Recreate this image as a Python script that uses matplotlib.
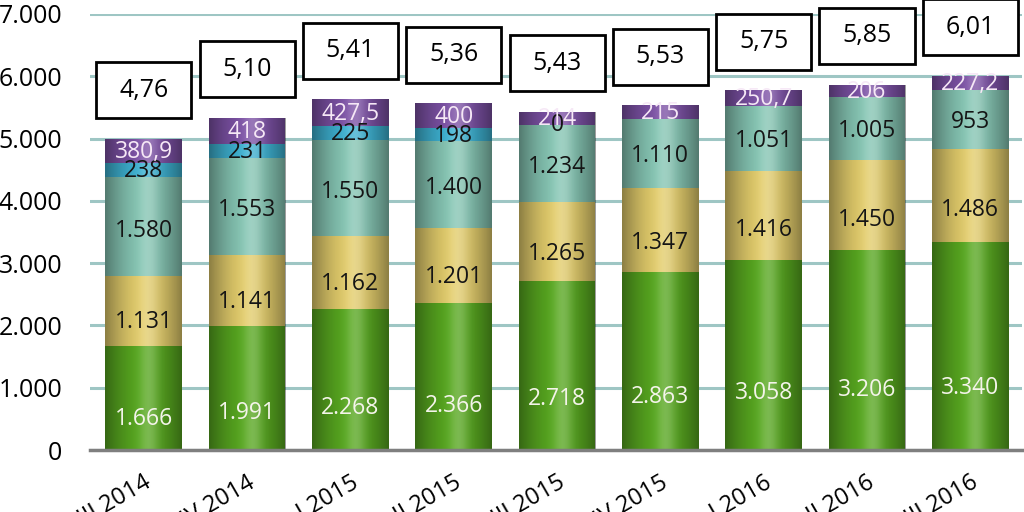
import matplotlib
matplotlib.use("Agg")
import matplotlib.pyplot as plt
import numpy as np
from matplotlib.patches import Rectangle

# ---- data ----
periods = ["III 2014", "IV 2014", "I 2015", "II 2015", "III 2015",
           "IV 2015", "I 2016", "II 2016", "III 2016"]
green = [1666, 1991, 2268, 2366, 2718, 2863, 3058, 3206, 3340]
yellow = [1131, 1141, 1162, 1201, 1265, 1347, 1416, 1450, 1486]
teal = [1580, 1553, 1550, 1400, 1234, 1110, 1051, 1005, 953]
blue = [238, 231, 225, 198, 0, None, None, None, None]
purple = [380.9, 418, 427.5, 400, 214, 215, 250.7, 206, 227.2]
box_labels = ["4,76", "5,10", "5,41", "5,36", "5,43", "5,53", "5,75", "5,85", "6,01"]
yticks = [0, 1000, 2000, 3000, 4000, 5000, 6000, 7000]
ytick_labels = ["0", "1.000", "2.000", "3.000", "4.000", "5.000", "6.000", "7.000"]

FONT = "Open Sans"
plt.rcParams["font.family"] = [FONT, "DejaVu Sans"]

def fmt(v):
    if v is None:
        return ""
    if float(v).is_integer():
        return f"{int(v):,}".replace(",", ".")
    return f"{v}".replace(".", ",")

fig = plt.figure(figsize=(10.24, 5.12), dpi=100)
ax = fig.add_axes([90/1024, 1-450/512, 932/1024, 436/512])

x = np.arange(len(periods))
width = 0.74
layers = [
    (green, "#58a820", "#f4f4ea", 0.30),
    (yellow, "#e3cd6c", "#151515", 0.34),
    (teal, "#86c6b4", "#151515", 0.46),
    (blue, "#3eb2d2", "#151515", 0.40),
    (purple, "#7d52a6", "#f6e8f6", 0.45),
]

bottom = np.zeros(len(x))
for vals, col, tcol, frac in layers:
    v = np.array([0 if a is None else a for a in vals], dtype=float)
    bars = ax.bar(x, v, width, bottom=bottom, color=col, zorder=3, linewidth=0)
    # cylinder shading
    for b in bars:
        if b.get_height() <= 0:
            continue
        xs = np.linspace(-1, 1, 64)
        shade = np.abs(xs) ** 1.6
        img = np.ones((2, 64, 4))
        img[..., :3] = 0.0
        img[..., 3] = 0.38 * shade
        light = np.ones((2, 64, 4))
        light[..., 3] = 0.22 * np.exp(-((xs - 0.15) / 0.25) ** 2)
        for im in (img, light):
            art = ax.imshow(im, extent=[b.get_x(), b.get_x() + b.get_width(),
                                        b.get_y(), b.get_y() + b.get_height()],
                            aspect="auto", zorder=4, interpolation="bilinear")
            art.set_clip_path(b)
    for i, a in enumerate(vals):
        if a is None:
            continue
        ax.text(x[i], bottom[i] + frac * a, fmt(a), ha="center", va="center",
                color=tcol, fontsize=16.5, zorder=6)
    bottom = bottom + v

totals = bottom
box_w = 0.92
box_h = 900
for i, lab in enumerate(box_labels):
    cy = totals[i] + 780
    ax.add_patch(Rectangle((x[i] - box_w/2, cy - box_h/2), box_w, box_h,
                           facecolor="white", edgecolor="black", linewidth=2,
                           zorder=7, clip_on=False))
    ax.text(x[i], cy, lab, ha="center", va="center", fontsize=18, zorder=8,
            clip_on=False)

ax.set_xlim(-0.52, 8.5)
ax.set_ylim(0, 7000)
ax.set_yticks(yticks)
ax.set_yticklabels(ytick_labels, fontsize=18)
ax.tick_params(axis="y", length=0, pad=20)
ax.set_xticks(x)
ax.set_xticklabels(periods, rotation=30, ha="right", va="top",
                   rotation_mode="anchor", fontsize=17)
ax.tick_params(axis="x", length=0, pad=15)
for s in ["top", "right", "left"]:
    ax.spines[s].set_visible(False)
ax.spines["bottom"].set_color("#7f7f7f")
ax.spines["bottom"].set_linewidth(2.5)
ax.spines["bottom"].set_zorder(5)
ax.yaxis.grid(True, color="#9ec6c4", linewidth=2.2, zorder=0)
ax.set_axisbelow(True)

fig.savefig("out.png", dpi=100)
